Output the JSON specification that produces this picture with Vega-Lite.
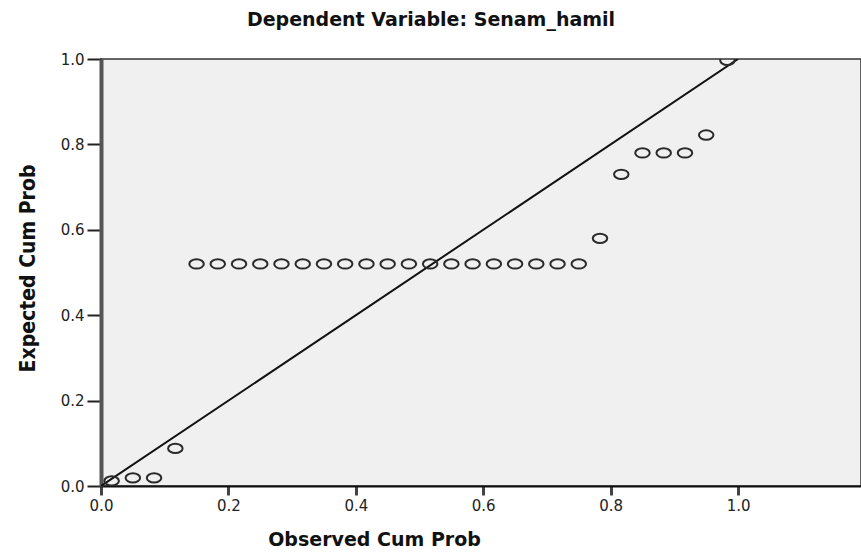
{
  "$schema": "https://vega.github.io/schema/vega-lite/v6.json",
  "width": 760,
  "height": 427,
  "autosize": {"type": "none"},
  "padding": {"left": 101, "top": 59, "right": 0, "bottom": 67},
  "background": "white",
  "config": {
    "view": {"fill": "#F0F0F0", "stroke": "#333333", "strokeWidth": 1.5},
    "axis": {"grid": false}
  },
  "title": {
    "text": "Dependent Variable: Senam_hamil",
    "font": "DejaVu Sans",
    "fontWeight": "bold",
    "fontSize": 19,
    "color": "#111111",
    "anchor": "middle",
    "frame": "group",
    "dx": -50,
    "offset": 31,
    "dy": 24,
    "baseline": "alphabetic"
  },
  "layer": [
    {
      "data": {"values": [{"x": 0, "y": 0}, {"x": 1, "y": 1}]},
      "mark": {"type": "line", "color": "#111111", "strokeWidth": 2, "clip": true},
      "encoding": {
        "x": {"field": "x", "type": "quantitative"},
        "y": {"field": "y", "type": "quantitative"}
      }
    },
    {
      "data": {
        "values": [
          {"observed": 0.0167, "expected": 0.012},
          {"observed": 0.05, "expected": 0.019},
          {"observed": 0.0833, "expected": 0.019},
          {"observed": 0.1167, "expected": 0.088},
          {"observed": 0.15, "expected": 0.52},
          {"observed": 0.1833, "expected": 0.52},
          {"observed": 0.2167, "expected": 0.52},
          {"observed": 0.25, "expected": 0.52},
          {"observed": 0.2833, "expected": 0.52},
          {"observed": 0.3167, "expected": 0.52},
          {"observed": 0.35, "expected": 0.52},
          {"observed": 0.3833, "expected": 0.52},
          {"observed": 0.4167, "expected": 0.52},
          {"observed": 0.45, "expected": 0.52},
          {"observed": 0.4833, "expected": 0.52},
          {"observed": 0.5167, "expected": 0.52},
          {"observed": 0.55, "expected": 0.52},
          {"observed": 0.5833, "expected": 0.52},
          {"observed": 0.6167, "expected": 0.52},
          {"observed": 0.65, "expected": 0.52},
          {"observed": 0.6833, "expected": 0.52},
          {"observed": 0.7167, "expected": 0.52},
          {"observed": 0.75, "expected": 0.52},
          {"observed": 0.7833, "expected": 0.58},
          {"observed": 0.8167, "expected": 0.73},
          {"observed": 0.85, "expected": 0.78},
          {"observed": 0.8833, "expected": 0.78},
          {"observed": 0.9167, "expected": 0.78},
          {"observed": 0.95, "expected": 0.822},
          {"observed": 0.9833, "expected": 0.997}
        ]
      },
      "mark": {
        "type": "point",
        "shape": "M-1,0A1,0.64 0 1,0 1,0A1,0.64 0 1,0 -1,0Z",
        "size": 210,
        "filled": false,
        "stroke": "#2a2a2a",
        "strokeWidth": 2,
        "opacity": 1,
        "clip": true
      },
      "encoding": {
        "x": {
          "field": "observed",
          "type": "quantitative",
          "scale": {"domain": [0, 1.193], "nice": false, "zero": false},
          "axis": {
            "title": "Observed Cum Prob",
            "titleFont": "DejaVu Sans",
            "titleFontWeight": "bold",
            "titleFontSize": 19,
            "titleColor": "#111111",
            "titleX": 273,
            "titleY": 59,
            "titleAlign": "center",
            "titleBaseline": "alphabetic",
            "values": [0, 0.2, 0.4, 0.6, 0.8, 1.0],
            "format": ".1f",
            "labelFont": "DejaVu Sans",
            "labelFontSize": 15,
            "labelColor": "#222222",
            "labelPadding": 3,
            "labelFlush": false,
            "tickSize": 9,
            "tickWidth": 3,
            "tickColor": "#444444",
            "domainColor": "#111111",
            "domainWidth": 2
          }
        },
        "y": {
          "field": "expected",
          "type": "quantitative",
          "scale": {"domain": [0, 1], "nice": false},
          "axis": {
            "title": "Expected Cum Prob",
            "titleFont": "Liberation Sans Narrow, DejaVu Sans Condensed, Liberation Sans",
            "titleFontWeight": "bold",
            "titleFontSize": 21,
            "titleColor": "#111111",
            "titleX": -67,
            "titleY": 209,
            "titleAngle": -90,
            "titleAlign": "center",
            "titleBaseline": "alphabetic",
            "values": [0, 0.2, 0.4, 0.6, 0.8, 1.0],
            "format": ".1f",
            "labelFont": "DejaVu Sans",
            "labelFontSize": 15,
            "labelColor": "#222222",
            "labelPadding": 3,
            "labelFlush": false,
            "tickSize": 14,
            "tickWidth": 2,
            "tickColor": "#222222",
            "domainColor": "#555555",
            "domainWidth": 4
          }
        }
      }
    }
  ]
}
